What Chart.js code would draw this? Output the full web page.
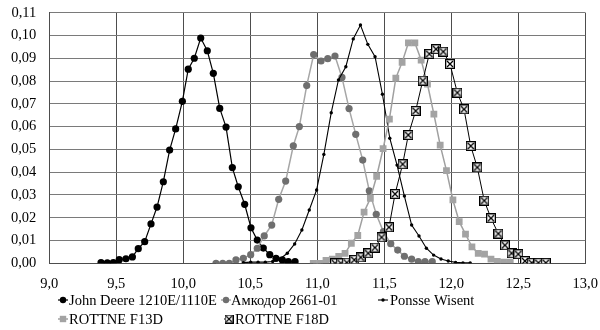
<!DOCTYPE html>
<html>
<head>
<meta charset="utf-8">
<script src="https://cdn.jsdelivr.net/npm/chart.js@4/dist/chart.umd.min.js"></script>
<style>
  html, body { margin: 0; padding: 0; background: #fff; }
  #wrap { position: relative; width: 600px; height: 330px; }
</style>
</head>
<body>
<div id="wrap"><canvas id="c" width="600" height="330"></canvas></div>
<script>
// ---- Data ----
const seriesNames = ["John Deere 1210E/1110E", "Амкодор 2661-01", "Ponsse Wisent", "ROTTNE F13D", "ROTTNE F18D"];

const jdX = [9.386, 9.433, 9.478, 9.522, 9.572, 9.620, 9.664, 9.712, 9.759, 9.804, 9.851, 9.898, 9.943, 9.993, 10.037, 10.082,
             10.130, 10.179, 10.224, 10.272, 10.319, 10.366, 10.410, 10.458, 10.505, 10.552, 10.597, 10.645, 10.692, 10.739, 10.784, 10.834];
const jdY = [0.0003, 0.0002, 0.0003, 0.0016, 0.0020, 0.0028, 0.0064, 0.0095, 0.0173, 0.0247, 0.0358, 0.0497, 0.0590, 0.0711, 0.0852, 0.0900,
             0.0989, 0.0933, 0.0834, 0.0680, 0.0598, 0.0420, 0.0336, 0.0259, 0.0156, 0.0102, 0.0067, 0.0038, 0.0022, 0.0015, 0.0007, 0.0007];

const amX = [10.244, 10.294, 10.343, 10.393, 10.448, 10.503, 10.552, 10.604, 10.660, 10.712, 10.764, 10.821, 10.866, 10.921, 10.973, 11.028,
             11.078, 11.132, 11.184, 11.237, 11.287, 11.339, 11.388, 11.440, 11.493, 11.548, 11.600, 11.650, 11.704, 11.754, 11.804, 11.858];
const amY = [0.0000, 0.0000, 0.0000, 0.0015, 0.0022, 0.0038, 0.0066, 0.0120, 0.0168, 0.0281, 0.0361, 0.0516, 0.0600, 0.0780, 0.0916, 0.0888,
             0.0898, 0.0910, 0.0816, 0.0679, 0.0566, 0.0453, 0.0318, 0.0215, 0.0139, 0.0086, 0.0058, 0.0031, 0.0018, 0.0007, 0.0007, 0.0007];

const poX = [10.448, 10.503, 10.558, 10.612, 10.667, 10.722, 10.776, 10.831, 10.885, 10.940, 10.995, 11.049, 11.104, 11.158, 11.213, 11.268,
             11.322, 11.377, 11.431, 11.486, 11.541, 11.595, 11.650, 11.704, 11.759, 11.814, 11.868, 11.923, 11.977, 12.032, 12.087, 12.141];
const poY = [0.0003, 0.0005, 0.0005, 0.0005, 0.0008, 0.0019, 0.0044, 0.0085, 0.0146, 0.0234, 0.0322, 0.0478, 0.0661, 0.0805, 0.0863, 0.0985,
             0.1046, 0.0961, 0.0907, 0.0742, 0.0549, 0.0431, 0.0295, 0.0168, 0.0120, 0.0066, 0.0036, 0.0019, 0.0010, 0.0004, 0.0002, 0.0002];

const f13X = [10.970, 11.017, 11.065, 11.112, 11.160, 11.207, 11.254, 11.302, 11.349, 11.396, 11.443, 11.491, 11.538, 11.586, 11.633, 11.680,
              11.728, 11.775, 11.822, 11.870, 11.917, 11.964, 12.012, 12.059, 12.106, 12.154, 12.201, 12.248, 12.296, 12.343, 12.390, 12.440];
const f13Y = [0.0000, 0.0000, 0.0013, 0.0018, 0.0030, 0.0044, 0.0088, 0.0122, 0.0225, 0.0285, 0.0382, 0.0503, 0.0633, 0.0813, 0.0882, 0.0968,
              0.0968, 0.0892, 0.0787, 0.0655, 0.0519, 0.0407, 0.0278, 0.0183, 0.0128, 0.0072, 0.0044, 0.0040, 0.0018, 0.0008, 0.0005, 0.0005];

const f18X = [11.132, 11.175, 11.220, 11.276, 11.324, 11.380, 11.430, 11.480, 11.535, 11.580, 11.637, 11.679, 11.734, 11.787, 11.836, 11.886,
              11.940, 11.990, 12.045, 12.095, 12.145, 12.194, 12.246, 12.296, 12.351, 12.400, 12.450, 12.500, 12.550, 12.600, 12.650, 12.705];
const f18Y = [0.0000, 0.0000, 0.0003, 0.0015, 0.0026, 0.0044, 0.0069, 0.0114, 0.0158, 0.0304, 0.0435, 0.0563, 0.0669, 0.0802, 0.0919, 0.0940,
              0.0929, 0.0875, 0.0749, 0.0676, 0.0515, 0.0421, 0.0275, 0.0198, 0.0130, 0.0079, 0.0044, 0.0040, 0.0010, 0.0002, 0.0002, 0.0002];

const xTicks = [9.0, 9.5, 10.0, 10.5, 11.0, 11.5, 12.0, 12.5, 13.0];
const yTicks = [0.00, 0.01, 0.02, 0.03, 0.04, 0.05, 0.06, 0.07, 0.08, 0.09, 0.10, 0.11];

// ---- helpers ----
function pts(xs, ys) { return xs.map((x, i) => ({ x: x, y: ys[i] })); }

function makeXBox(size) {
  const c = document.createElement('canvas');
  c.width = size; c.height = size;
  const g = c.getContext('2d');
  g.fillStyle = '#ffffff';
  g.fillRect(0, 0, size, size);
  g.strokeStyle = '#000000';
  g.lineWidth = 1.3;
  g.strokeRect(0.65, 0.65, size - 1.3, size - 1.3);
  g.lineWidth = 1.3;
  g.beginPath();
  g.moveTo(2, 2); g.lineTo(size - 2, size - 2);
  g.moveTo(size - 2, 2); g.lineTo(2, size - 2);
  g.stroke();
  return c;
}
const xBox = makeXBox(10);

const FONT = '"Liberation Serif", "Times New Roman", serif';

const styles = [
  { line: '#000000', lw: 1.2, ps: 'circle', r: 3.6, fill: '#000000', border: '#000000' },
  { line: '#a6a6a6', lw: 1.5, ps: 'circle', r: 3.6, fill: '#6f6f6f', border: '#6f6f6f' },
  { line: '#000000', lw: 1.1, ps: 'circle', r: 1.7, fill: '#000000', border: '#000000' },
  { line: '#a0a0a0', lw: 1.5, ps: 'rect', r: 4.8, fill: '#a3a3a3', border: '#a3a3a3' },
  { line: '#000000', lw: 1.0, ps: xBox, r: 5, fill: '#000000', border: '#000000' }
];
const dataSets = [pts(jdX, jdY), pts(amX, amY), pts(poX, poY), pts(f13X, f13Y), pts(f18X, f18Y)];
const orders = [5, 4, 3, 2, 1];

const datasets = seriesNames.map((n, i) => ({
  label: n,
  data: dataSets[i],
  borderColor: styles[i].line,
  borderWidth: styles[i].lw,
  pointStyle: styles[i].ps,
  pointRadius: styles[i].r,
  pointBackgroundColor: styles[i].fill,
  pointBorderColor: styles[i].border,
  pointBorderWidth: 0,
  tension: 0,
  fill: false,
  order: orders[i]
}));

// custom legend drawn in the canvas, laid out like the reference (two rows)
const legendLayout = [
  { mx: 63, tx: 69, y: 300 },
  { mx: 226, tx: 231, y: 300 },
  { mx: 383, tx: 390, y: 300 },
  { mx: 63, tx: 69, y: 319 },
  { mx: 229, tx: 235, y: 319 }
];

const legendPlugin = {
  id: 'refLegend',
  afterDraw(chart) {
    const ctx = chart.ctx;
    ctx.save();
    ctx.font = '14.5px ' + FONT;
    ctx.textBaseline = 'middle';
    ctx.textAlign = 'left';
    seriesNames.forEach((n, i) => {
      const L = legendLayout[i], s = styles[i];
      ctx.strokeStyle = s.line;
      ctx.lineWidth = s.lw;
      ctx.beginPath();
      ctx.moveTo(L.mx - 5, L.y); ctx.lineTo(L.mx + 5, L.y);
      ctx.stroke();
      if (s.ps === 'circle') {
        ctx.fillStyle = s.fill;
        ctx.beginPath(); ctx.arc(L.mx, L.y, Math.min(s.r, 3.2), 0, Math.PI * 2); ctx.fill();
      } else if (s.ps === 'rect') {
        ctx.fillStyle = s.fill;
        ctx.fillRect(L.mx - 3.2, L.y - 3.2, 6.4, 6.4);
      } else {
        ctx.drawImage(s.ps, L.mx - 4.5, L.y - 4.5, 9, 9);
      }
      ctx.fillStyle = '#000000';
      ctx.fillText(n, L.tx, L.y + 1);
    });
    ctx.restore();
  }
};

function comma(v, d) { return v.toFixed(d).replace('.', ','); }

new Chart(document.getElementById('c'), {
  type: 'line',
  data: { datasets: datasets },
  options: {
    responsive: false,
    animation: false,
    layout: { padding: { left: 0, right: 14.7, top: 12.7, bottom: 30.7 } },
    plugins: {
      legend: { display: false },
      tooltip: { enabled: false }
    },
    scales: {
      x: {
        type: 'linear',
        min: 9, max: 13,
        afterBuildTicks: (s) => { s.ticks = xTicks.map(v => ({ value: v })); },
        afterFit: (s) => { s.height = 36; s.paddingLeft = 0; s.paddingRight = 0; },
        grid: { color: '#4d4d4d', lineWidth: 1, drawTicks: false },
        border: { display: true, color: '#4d4d4d', width: 1 },
        ticks: {
          padding: 12,
          color: '#000000',
          font: { family: FONT, size: 14.5 },
          callback: (v) => comma(v, 1),
          maxRotation: 0, autoSkip: false
        }
      },
      y: {
        type: 'linear',
        min: 0, max: 0.11,
        afterBuildTicks: (s) => { s.ticks = yTicks.map(v => ({ value: v })); },
        afterFit: (s) => { s.width = 49.3; s.paddingTop = 0; s.paddingBottom = 0; },
        grid: { color: '#7a7a7a', lineWidth: 1, drawTicks: false },
        border: { display: true, color: '#4d4d4d', width: 1 },
        ticks: {
          padding: 13,
          color: '#000000',
          font: { family: FONT, size: 14.5 },
          callback: (v) => comma(v, 2),
          autoSkip: false
        }
      }
    }
  },
  plugins: [legendPlugin]
});
</script>
</body>
</html>
